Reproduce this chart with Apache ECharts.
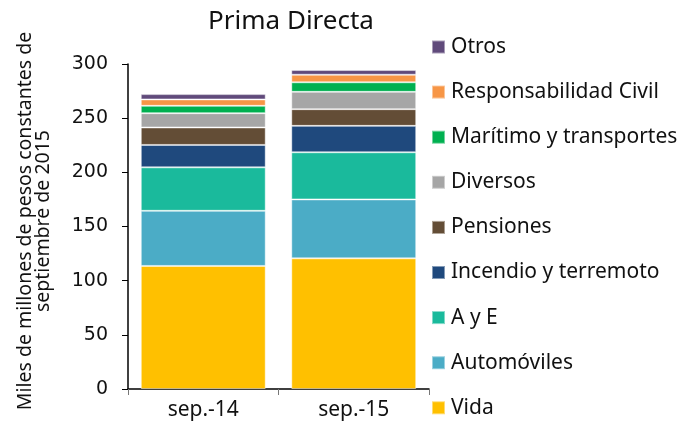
<!DOCTYPE html>
<html>
<head>
<meta charset="utf-8">
<script src="https://cdn.jsdelivr.net/npm/echarts@6/dist/echarts.min.js"></script>
<style>
  html, body { margin: 0; padding: 0; background: #fff; }
  #chart { width: 694px; height: 432px; }
</style>
</head>
<body>
<div id="chart"></div>
<script>
const categories = ['sep.-14', 'sep.-15']
const seriesNames = ['Vida', 'Automóviles', 'A y E', 'Incendio y terremoto', 'Pensiones',
  'Diversos', 'Marítimo y transportes', 'Responsabilidad Civil', 'Otros']
const vida = [113.6, 120.6]
const automoviles = [50.9, 54.4]
const ayE = [40.1, 43.5]
const incendio = [20.7, 24.4]
const pensiones = [16.1, 15.4]
const diversos = [13.2, 16.0]
const maritimo = [6.8, 8.8]
const responsabilidad = [5.9, 7.0]
const otros = [4.9, 4.3]
const yTicks = [0, 50, 100, 150, 200, 250, 300]

const values = [vida, automoviles, ayE, incendio, pensiones, diversos, maritimo, responsabilidad, otros]
const colors = ['#FFC000', '#4BACC6', '#1ABA9C', '#1F497D', '#634D36',
  '#A6A6A6', '#00B050', '#F79646', '#604A7B']

const font = 'Noto Sans'

const chart = echarts.init(document.getElementById('chart'))
const options = {
  animation: false,
  color: colors,
  title: {
    text: 'Prima Directa',
    left: 286,
    top: 4,
    textAlign: 'center',
    textStyle: { fontFamily: font, fontWeight: 'normal', fontSize: 26, color: '#111' }
  },
  legend: {
    orient: 'vertical',
    left: 426,
    top: 28,
    itemWidth: 13,
    itemHeight: 13,
    itemGap: 17.1,
    icon: 'rect',
    data: seriesNames.slice().reverse(),
    textStyle: { fontFamily: font, fontSize: 21, lineHeight: 28, color: '#111', padding: [0, 0, 0, 1] }
  },
  graphic: [{
    type: 'text',
    x: 34,
    y: 221,
    rotation: Math.PI / 2,
    style: {
      text: 'Miles de millones de pesos constantes de\nseptiembre de 2015',
      font: '19.5px "Noto Sans"',
      fill: '#111',
      align: 'center',
      verticalAlign: 'middle',
      lineHeight: 18
    }
  }],
  grid: { left: 128, top: 64, right: 265, bottom: 43 },
  xAxis: {
    type: 'category',
    data: categories,
    axisLine: { lineStyle: { color: '#000', width: 1.5 } },
    axisTick: { show: true, length: 6, lineStyle: { color: '#777' } },
    axisLabel: { fontFamily: font, fontSize: 21, color: '#111', margin: 11 }
  },
  yAxis: {
    type: 'value',
    min: yTicks[0],
    max: yTicks[yTicks.length - 1],
    interval: 50,
    axisLine: { show: true, lineStyle: { color: '#000', width: 1.5 } },
    axisTick: { show: true, length: 6, lineStyle: { color: '#000' } },
    splitLine: { show: false },
    axisLabel: { fontFamily: 'DejaVu Sans', fontSize: 19, color: '#111', margin: 20 }
  },
  series: seriesNames.map((name, i) => ({
    name: name,
    type: 'bar',
    stack: 'total',
    barCategoryGap: '17%',
    data: values[i],
    itemStyle: { borderColor: 'rgba(255,255,255,0.45)', borderWidth: 1 }
  }))
}
chart.setOption(options)
window.addEventListener('resize', function () {
  chart.resize()
})
</script>
</body>
</html>
